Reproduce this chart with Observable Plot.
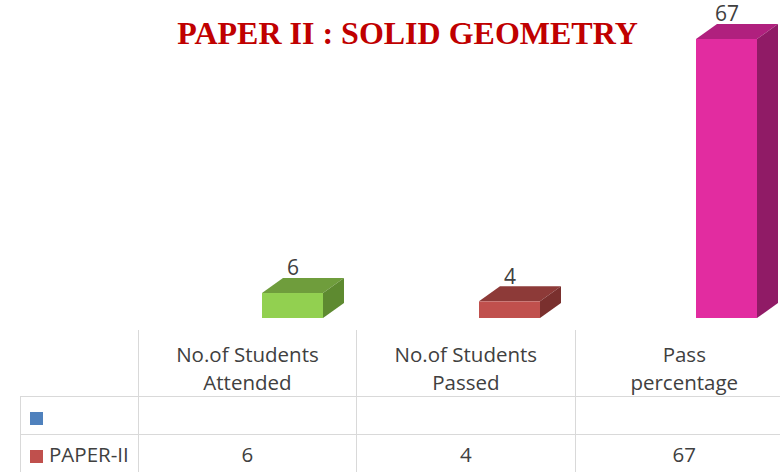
<!DOCTYPE html>
<html>
<head>
<meta charset="utf-8">
<script src="https://cdn.jsdelivr.net/npm/d3@7"></script>
<script src="https://cdn.jsdelivr.net/npm/@observablehq/plot@0.6"></script>
<style>
  html, body { margin: 0; padding: 0; background: #fff; overflow: hidden; width: 780px; height: 472px; }
  #chart svg { display: block; }
  table.dt { border-collapse: collapse; table-layout: fixed; width: 774px; margin-left: 20px;
    font-family: "Open Sans", sans-serif; font-size: 20.5px; color: #404040; }
  table.dt td { border: 1.5px solid #d9d9d9; padding: 0; text-align: center; }
  table.dt tr.head td { border-top: none; height: 66px; vertical-align: bottom; line-height: 28px; }
  table.dt tr.head td.corner { border-left: none; }
  table.dt tr.r1 td { height: 37px; }
  table.dt tr.r2 td { height: 38px; }
  table.dt td.name { text-align: left; padding-left: 9px; white-space: nowrap; }
  .sw { display: inline-block; width: 13px; height: 13px; margin-right: 6px; vertical-align: -1px; }
</style>
</head>
<body>
<div id="chart"></div>
<div id="table"></div>
<script>
// ---- data ----
const categories = ["No.of Students Attended", "No.of Students Passed", "Pass percentage"];
const headerLines = [["No.of Students", "Attended"], ["No.of Students", "Passed"], ["Pass", "percentage"]];
const paperII = [6, 4, 67];
const seriesNames = ["", "PAPER-II"];
const seriesColors = ["#4f81bd", "#c0504d"];
const frontColors = ["#92d050", "#c0504d", "#e22ca0"];
const topColors = ["#6f9d3c", "#8d3a38", "#b0207e"];
const sideColors = ["#5e8a30", "#7a302e", "#901b66"];
const title = "PAPER II : SOLID GEOMETRY";

const data = categories.map((c, i) => ({cat: c, value: paperII[i], front: frontColors[i], top: topColors[i], side: sideColors[i]}));

const insetL = 125, insetR = 31, depthX = 21, depthY = -15;

const chart = Plot.plot({
  width: 780,
  height: 330,
  margin: 0,
  style: {fontFamily: "'Open Sans', sans-serif", background: "white"},
  x: {type: "band", domain: categories, range: [137, 788], padding: 0, axis: null},
  y: {domain: [0, 67], range: [318, 39], axis: null},
  color: {type: "identity"},
  marks: [
    Plot.barY(data, {x: "cat", y: "value", fill: "front", insetLeft: insetL, insetRight: insetR}),
    Plot.text(data, {x: "cat", y: "value", text: d => String(d.value), dx: 47, dy: -25,
      fontSize: 21, fill: "#404040"}),
    Plot.text([title], {frameAnchor: "top", text: d => d, dx: 17, dy: 33, lineAnchor: "middle",
      fontFamily: "'Liberation Serif', 'Times New Roman', serif", fontWeight: "bold", fontSize: 32, fill: "#c00000"})
  ]
});

// 3D faces (top and side) positioned through Plot's own scales
const xs = chart.scale("x"), ys = chart.scale("y");
const g = d3.select(chart).insert("g", "g");
data.forEach(d => {
  const x0 = xs.apply(d.cat) + insetL;
  const x1 = xs.apply(d.cat) + xs.bandwidth - insetR;
  const yt = ys.apply(d.value), yb = ys.apply(0);
  g.append("polygon")
    .attr("points", [[x0, yt], [x1, yt], [x1 + depthX, yt + depthY], [x0 + depthX, yt + depthY]].map(p => p.join(",")).join(" "))
    .attr("fill", d.top);
  g.append("polygon")
    .attr("points", [[x1, yt], [x1 + depthX, yt + depthY], [x1 + depthX, yb + depthY], [x1, yb]].map(p => p.join(",")).join(" "))
    .attr("fill", d.side);
});
document.getElementById("chart").appendChild(chart);

// data table below the chart
const tbl = d3.select("#table").append("table").attr("class", "dt");
const cg = tbl.append("colgroup");
cg.append("col").style("width", "117px");
categories.forEach(() => cg.append("col").style("width", "217px"));
const hr = tbl.append("tr").attr("class", "head");
hr.append("td").attr("class", "corner");
headerLines.forEach(lines => hr.append("td").html(lines.join("<br>")));
const r1 = tbl.append("tr").attr("class", "r1");
const n1 = r1.append("td").attr("class", "name");
n1.append("span").attr("class", "sw").style("background", seriesColors[0]);
n1.append("span").text(seriesNames[0]);
categories.forEach(() => r1.append("td").text(""));
const r2 = tbl.append("tr").attr("class", "r2");
const n2 = r2.append("td").attr("class", "name");
n2.append("span").attr("class", "sw").style("background", seriesColors[1]);
n2.append("span").text(seriesNames[1]);
paperII.forEach(v => r2.append("td").text(v));
</script>
</body>
</html>
